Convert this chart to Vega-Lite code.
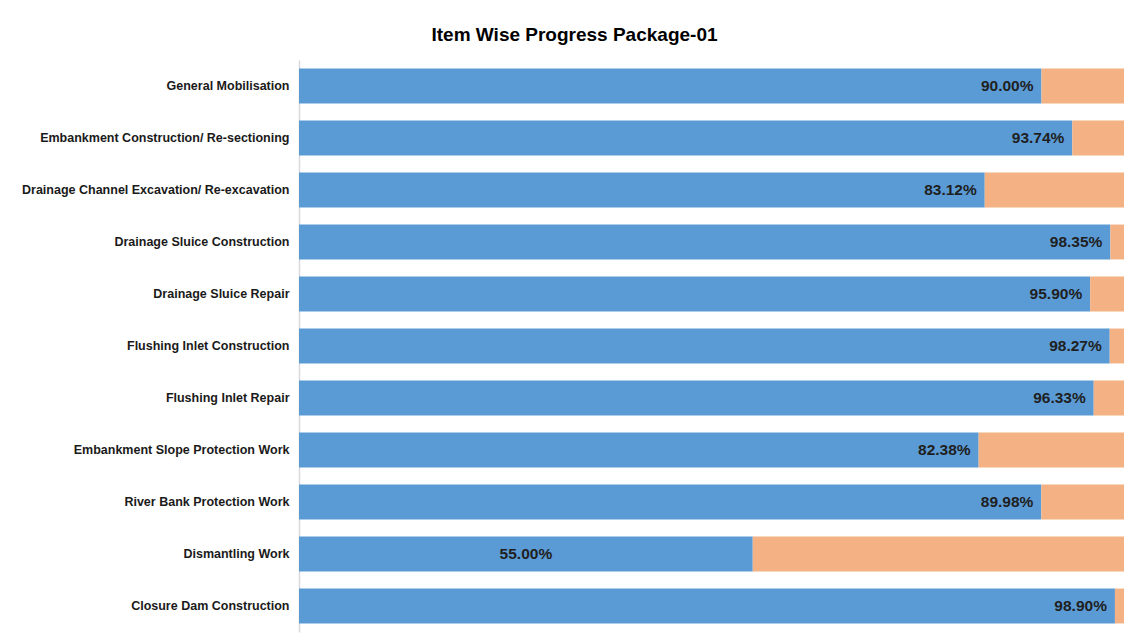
{
  "$schema": "https://vega.github.io/schema/vega-lite/v6.json",
  "width": 825,
  "height": 572,
  "autosize": {"type": "none"},
  "padding": {"left": 299, "top": 60, "right": 0, "bottom": 7},
  "background": "white",
  "title": {
    "text": "Item Wise Progress Package-01",
    "anchor": "middle",
    "frame": "group",
    "dx": -137,
    "offset": 15,
    "font": "Liberation Sans",
    "fontSize": 19,
    "fontWeight": "bold",
    "color": "#000000"
  },
  "data": {
    "values": [
      {"item": "General Mobilisation", "progress": 0.9000},
      {"item": "Embankment Construction/ Re-sectioning", "progress": 0.9374},
      {"item": "Drainage Channel Excavation/ Re-excavation", "progress": 0.8312},
      {"item": "Drainage Sluice Construction", "progress": 0.9835},
      {"item": "Drainage Sluice Repair", "progress": 0.9590},
      {"item": "Flushing Inlet Construction", "progress": 0.9827},
      {"item": "Flushing Inlet Repair", "progress": 0.9633},
      {"item": "Embankment Slope Protection Work", "progress": 0.8238},
      {"item": "River Bank Protection Work", "progress": 0.8998},
      {"item": "Dismantling Work", "progress": 0.5500},
      {"item": "Closure Dam Construction", "progress": 0.9890}
    ]
  },
  "encoding": {
    "y": {
      "field": "item",
      "type": "nominal",
      "sort": null,
      "scale": {"paddingInner": 0.33, "paddingOuter": 0.165},
      "axis": {
        "title": null,
        "ticks": false,
        "labelPadding": 10,
        "labelFont": "Liberation Sans",
        "labelFontSize": 12.5,
        "labelFontWeight": "bold",
        "labelColor": "#1a1a1a",
        "labelLimit": 400,
        "domainColor": "#d9d9d9",
        "domainWidth": 1.5,
        "grid": false
      }
    }
  },
  "layer": [
    {
      "mark": {"type": "bar", "color": "#5B9BD5"},
      "encoding": {
        "x": {
          "field": "progress",
          "type": "quantitative",
          "scale": {"domain": [0, 1], "nice": false, "zero": true},
          "axis": null
        }
      }
    },
    {
      "mark": {"type": "bar", "color": "#F4B183"},
      "encoding": {
        "x": {"field": "progress", "type": "quantitative"},
        "x2": {"datum": 1}
      }
    },
    {
      "transform": [{"filter": "datum.progress >= 0.6"}],
      "mark": {
        "type": "text",
        "align": "right",
        "baseline": "middle",
        "dx": -8,
        "font": "Liberation Sans",
        "fontSize": 15.5,
        "fontWeight": "bold",
        "color": "#1f1f1f"
      },
      "encoding": {
        "x": {"field": "progress", "type": "quantitative"},
        "text": {"field": "progress", "type": "quantitative", "format": ".2%"}
      }
    },
    {
      "transform": [
        {"filter": "datum.progress < 0.6"},
        {"calculate": "datum.progress / 2", "as": "mid"}
      ],
      "mark": {
        "type": "text",
        "align": "center",
        "baseline": "middle",
        "font": "Liberation Sans",
        "fontSize": 15.5,
        "fontWeight": "bold",
        "color": "#1f1f1f"
      },
      "encoding": {
        "x": {"field": "mid", "type": "quantitative"},
        "text": {"field": "progress", "type": "quantitative", "format": ".2%"}
      }
    }
  ],
  "config": {
    "view": {"stroke": null}
  }
}
